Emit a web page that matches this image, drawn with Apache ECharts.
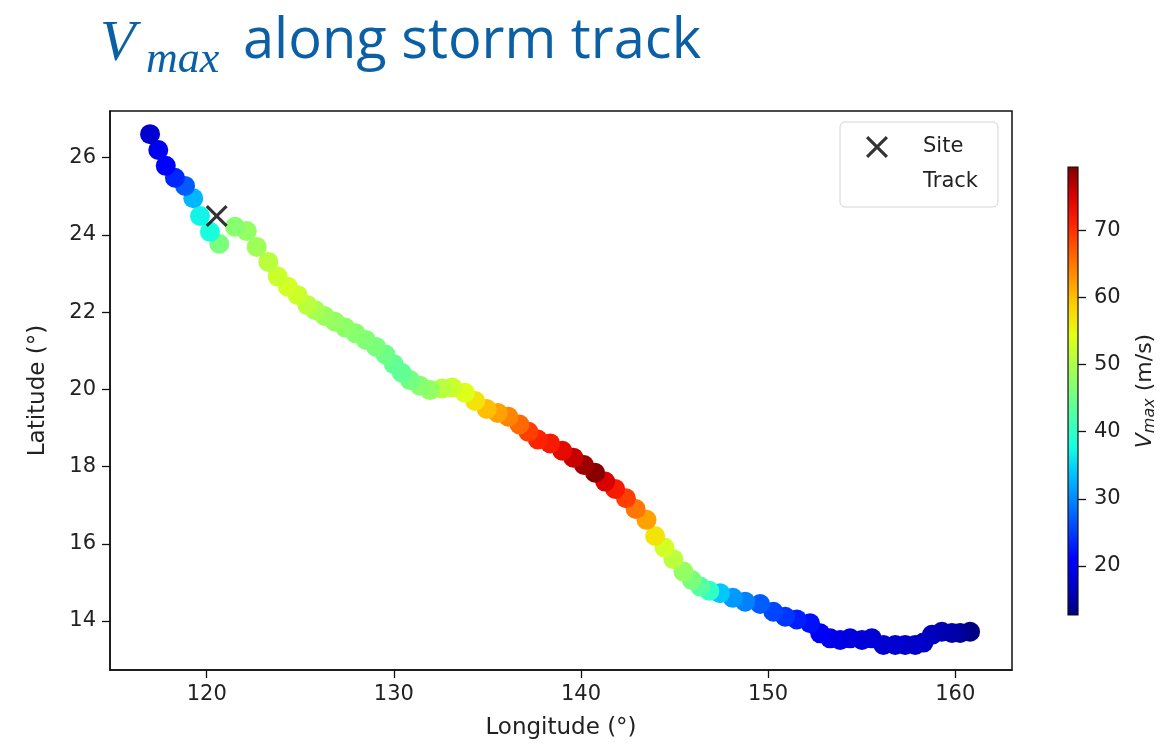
<!DOCTYPE html>
<html>
<head>
<meta charset="utf-8">
<script src="https://cdn.jsdelivr.net/npm/echarts@6/dist/echarts.min.js"></script>
<style>
  html, body { margin: 0; padding: 0; background: #fff; }
  #chart { width: 1165px; height: 746px; }
</style>
</head>
<body>
<div id="chart"></div>
<script>
// storm track, east -> west
const trackLon = [
  160.79, 160.26, 159.82, 159.28, 158.75, 158.30, 157.86, 157.32, 156.79, 156.16,
  155.54, 155.01, 154.38, 153.85, 153.31, 152.78, 152.24, 151.53, 150.91, 150.28,
  149.57, 148.77, 148.11, 147.43, 146.86, 146.37, 145.92, 145.47, 144.94, 144.46,
  143.96, 143.50, 142.92, 142.40, 141.82, 141.29, 140.75, 140.16, 139.59, 139.00,
  138.35, 137.69, 137.19, 136.71, 136.12, 135.55, 134.96, 134.34, 133.80, 133.12,
  132.56, 131.93, 131.40, 130.86, 130.42, 130.00, 129.55, 129.05, 128.50, 127.95,
  127.40, 126.85, 126.30, 125.80, 125.38, 124.86, 124.33, 123.79, 123.29, 122.67,
  122.14, 121.51, 120.67, 120.17, 119.64, 119.28, 118.84, 118.30, 117.81, 117.41,
  116.97
]
const trackLat = [
  13.72, 13.69, 13.69, 13.72, 13.64, 13.44, 13.38, 13.38, 13.38, 13.38,
  13.55, 13.51, 13.55, 13.51, 13.55, 13.68, 13.94, 14.04, 14.11, 14.24,
  14.44, 14.50, 14.60, 14.72, 14.78, 14.89, 15.06, 15.28, 15.60, 15.90,
  16.20, 16.62, 16.90, 17.18, 17.42, 17.61, 17.84, 18.04, 18.23, 18.41,
  18.60, 18.70, 18.90, 19.09, 19.29, 19.39, 19.49, 19.70, 19.91, 20.05,
  20.02, 19.98, 20.09, 20.24, 20.43, 20.65, 20.90, 21.10, 21.28, 21.45,
  21.60, 21.75, 21.90, 22.05, 22.18, 22.44, 22.66, 22.92, 23.30, 23.69,
  24.10, 24.21, 23.77, 24.08, 24.49, 24.95, 25.27, 25.48, 25.79, 26.20,
  26.61
]
const trackVmax = [
  12.8, 14.0, 15.0, 15.5, 16.0, 16.5, 17.0, 17.0, 17.5, 17.5,
  18.0, 18.0, 18.5, 19.0, 19.5, 20.5, 22.0, 23.0, 24.5, 25.5,
  27.0, 29.5, 31.0, 34.0, 40.0, 43.0, 46.0, 48.0, 51.0, 53.0,
  57.0, 62.0, 65.0, 69.0, 72.0, 75.0, 79.0, 78.0, 76.0, 74.0,
  72.0, 71.0, 69.0, 66.0, 64.0, 62.0, 60.0, 57.0, 54.0, 52.5,
  51.0, 48.0, 47.0, 45.5, 44.0, 44.0, 45.0, 46.0, 46.5, 47.0,
  47.5, 48.0, 48.5, 49.5, 51.0, 52.5, 53.0, 52.5, 51.0, 49.0,
  48.0, 47.0, 46.0, 38.0, 37.0, 33.0, 27.0, 23.5, 21.0, 20.0,
  17.5
]
const siteLon = [120.53]
const siteLat = [24.49]

const vRange = [12.7, 79.4]
const lonTicks = [120, 130, 140, 150, 160]
const latTicks = [14, 16, 18, 20, 22, 24, 26]
const cbTicks = [20, 30, 40, 50, 60, 70]

// jet colormap sampled at 17 even steps
const jet = [
  '#000080', '#0000c8', '#0000ff', '#0040ff', '#0080ff', '#00bfff', '#15ffe2',
  '#48ffaf', '#7bff7b', '#afff48', '#e2ff15', '#ffd200', '#ff9700', '#ff5c00',
  '#ff2100', '#d80000', '#800000'
]

const titleColor = '#0b5fa5'
const txt = '#222'
const fnt = 'DejaVu Sans'

let trackData = trackLon.map((lon, i) => [lon, trackLat[i], trackVmax[i]])
let siteData = siteLon.map((lon, i) => [lon, siteLat[i]])

const xPath = 'path://M1,0 L5,4 L9,0 L10,1 L6,5 L10,9 L9,10 L5,6 L1,10 L0,9 L4,5 L0,1 Z'

let chart = echarts.init(document.getElementById('chart'))
let option = {
  animation: false,
  backgroundColor: '#fff',
  title: [
    {
      text: 'V', left: 100, top: 16, padding: 0,
      textStyle: { fontFamily: 'Liberation Serif', fontStyle: 'italic', fontWeight: 'normal', fontSize: 58, color: titleColor },
    },
    {
      text: 'max', left: 146, top: 38, padding: 0,
      textStyle: { fontFamily: 'Liberation Serif', fontStyle: 'italic', fontWeight: 'normal', fontSize: 44, color: titleColor },
    },
    {
      text: 'along storm track', left: 243, top: 14, padding: 0,
      textStyle: { fontFamily: 'Open Sans', fontWeight: 'normal', fontSize: 56, color: titleColor },
    },
  ],
  legend: {
    orient: 'vertical',
    left: 840,
    top: 122,
    padding: [14, 20, 14, 26],
    itemWidth: 22,
    itemHeight: 22,
    itemGap: 13,
    backgroundColor: '#fff',
    borderColor: '#d4d4d4',
    borderWidth: 1,
    borderRadius: 5,
    textStyle: { fontFamily: fnt, fontSize: 21, color: txt, padding: [0, 0, 0, 30] },
    data: [
      { name: 'Site', icon: xPath, itemStyle: { color: '#000' } },
      { name: 'Track', itemStyle: { opacity: 0 } },
    ],
  },
  visualMap: {
    type: 'continuous',
    show: false,
    seriesIndex: 0,
    dimension: 2,
    min: vRange[0],
    max: vRange[1],
    inRange: { color: jet },
  },
  grid: [
    { left: 110, right: 153, top: 111, bottom: 76, show: true, borderColor: '#111', borderWidth: 1.5 },
    { left: 1068, width: 10, top: 167, height: 448, show: true, borderColor: '#111', borderWidth: 1.2, z: 5 },
  ],
  xAxis: [
    {
      type: 'value', gridIndex: 0, min: 114.83, max: 163.03,
      name: 'Longitude (°)', nameLocation: 'middle', nameGap: 47,
      nameTextStyle: { fontFamily: fnt, fontSize: 23, color: txt },
      axisLine: { show: true, lineStyle: { color: '#111', width: 1.5 } },
      axisTick: { show: true, length: 8, lineStyle: { color: '#111', width: 1.3 }, customValues: lonTicks },
      axisLabel: { fontFamily: fnt, fontSize: 21, color: txt, margin: 14, customValues: lonTicks },
      splitLine: { show: false },
    },
    {
      type: 'category', gridIndex: 1, data: ['cb'],
      axisLine: { show: false }, axisTick: { show: false }, axisLabel: { show: false },
    },
  ],
  yAxis: [
    {
      type: 'value', gridIndex: 0, min: 12.73, max: 27.21,
      name: 'Latitude (°)', nameLocation: 'middle', nameGap: 60, nameRotate: 90,
      nameTextStyle: { fontFamily: fnt, fontSize: 23, color: txt },
      axisLine: { show: true, lineStyle: { color: '#111', width: 1.5 } },
      axisTick: { show: true, length: 8, lineStyle: { color: '#111', width: 1.3 }, customValues: latTicks },
      axisLabel: { fontFamily: fnt, fontSize: 21, color: txt, margin: 14, customValues: latTicks },
      splitLine: { show: false },
    },
    {
      type: 'value', gridIndex: 1, position: 'right', min: vRange[0], max: vRange[1],
      name: '{v|V}{s|max} (m/s)', nameLocation: 'middle', nameGap: 55, nameRotate: 90,
      nameTextStyle: {
        fontFamily: fnt, fontSize: 22, color: txt,
        rich: {
          v: { fontFamily: fnt, fontSize: 22, color: txt, fontStyle: 'italic' },
          s: { fontFamily: fnt, fontSize: 16, color: txt, fontStyle: 'italic', padding: [9, 0, 0, 0] },
        },
      },
      axisLine: { show: false },
      axisTick: { show: true, length: 8, lineStyle: { color: '#111', width: 1.3 }, customValues: cbTicks },
      axisLabel: { fontFamily: fnt, fontSize: 21, color: txt, margin: 16, customValues: cbTicks },
      splitLine: { show: false },
    },
  ],
  series: [
    {
      name: 'Track',
      type: 'scatter',
      xAxisIndex: 0, yAxisIndex: 0,
      symbol: 'circle',
      symbolSize: 20,
      itemStyle: { opacity: 1 },
      data: trackData,
    },
    {
      name: 'Site',
      type: 'scatter',
      xAxisIndex: 0, yAxisIndex: 0,
      symbol: xPath,
      symbolKeepAspect: true,
      symbolSize: 22,
      itemStyle: { color: '#000' },
      z: 3,
      data: siteData,
    },
    {
      name: 'colorbar',
      type: 'bar',
      xAxisIndex: 1, yAxisIndex: 1,
      barWidth: '100%',
      silent: true,
      itemStyle: {
        color: new echarts.graphic.LinearGradient(0, 1, 0, 0,
          jet.map((c, i) => ({ offset: i / (jet.length - 1), color: c }))),
      },
      data: [vRange[1]],
    },
  ],
}
chart.setOption(option)
</script>
</body>
</html>
